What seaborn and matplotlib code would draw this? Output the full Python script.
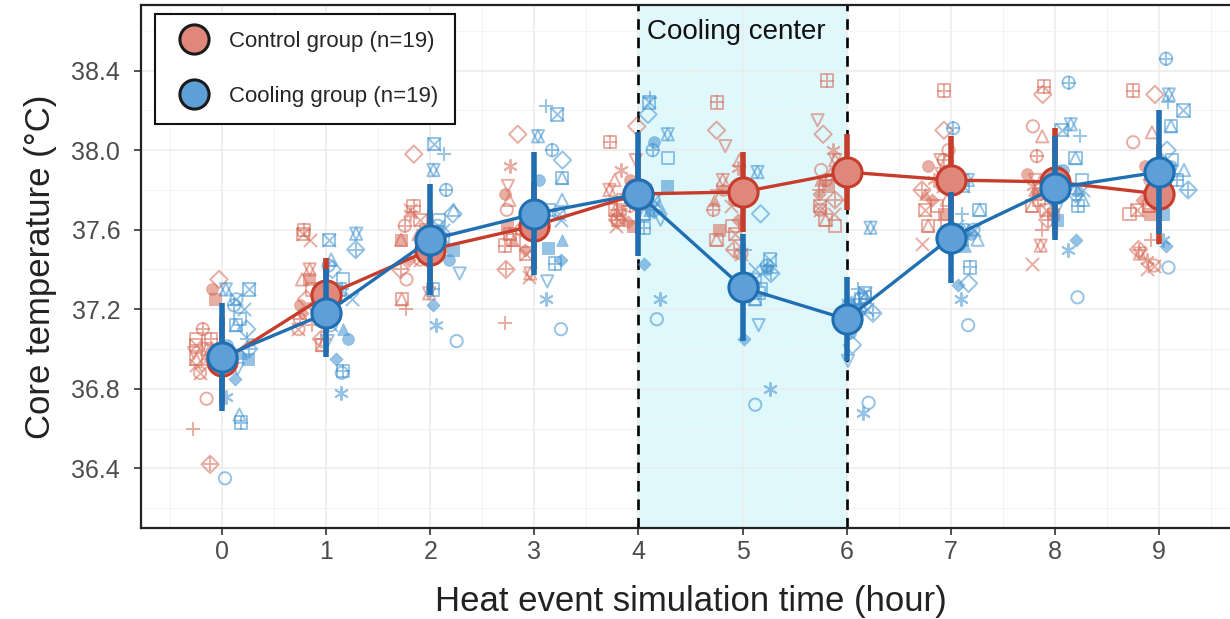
import numpy as np
import pandas as pd
import matplotlib
matplotlib.use("Agg")
import matplotlib.pyplot as plt
import seaborn as sns
from matplotlib.lines import Line2D

# Core temperature during a simulated heat event, control vs cooling group

hours = list(range(10))
groups = ["Control group (n=19)", "Cooling group (n=19)"]

# group mean and sd per hour
control_mean = [36.94, 37.27, 37.50, 37.62, 37.78, 37.79, 37.89, 37.85, 37.84, 37.78]
control_sd = [0.22, 0.19, 0.20, 0.22, 0.20, 0.20, 0.19, 0.22, 0.27, 0.25]
cooling_mean = [36.96, 37.18, 37.55, 37.68, 37.78, 37.31, 37.15, 37.56, 37.81, 37.89]
cooling_sd = [0.27, 0.22, 0.28, 0.31, 0.31, 0.27, 0.21, 0.23, 0.26, 0.31]

# individual subjects, one list per hour (subjects in shape order 0..18)
control_temps = [
    [37.05, 36.75, 36.95, 36.60, 36.92, 37.35, 36.98, 37.02, 36.90, 36.42, 37.10, 37.00, 37.05, 36.88, 36.95, 37.25, 37.30, 36.98, 37.00],
    [37.30, 37.20, 37.35, 37.12, 37.55, 37.25, 37.20, 37.58, 37.28, 37.05, 37.15, 37.40, 37.60, 37.10, 37.02, 37.35, 37.22, 37.30, 37.18],
    [37.60, 37.35, 37.55, 37.20, 37.70, 37.98, 37.50, 37.65, 37.68, 37.40, 37.62, 37.28, 37.72, 37.45, 37.25, 37.55, 37.50, 37.58, 37.45],
    [37.55, 37.70, 37.75, 37.13, 37.36, 38.08, 37.82, 37.48, 37.92, 37.40, 37.60, 37.38, 37.52, 37.65, 37.58, 37.62, 37.78, 37.55, 37.50],
    [37.75, 37.82, 37.85, 37.70, 37.62, 38.12, 37.95, 37.65, 37.90, 37.65, 37.72, 37.80, 38.04, 37.68, 37.70, 37.62, 37.85, 37.78, 37.64],
    [37.62, 37.75, 37.95, 37.80, 37.72, 38.10, 38.02, 37.58, 37.91, 37.50, 37.70, 37.85, 38.24, 37.48, 37.55, 37.60, 37.80, 37.75, 37.65],
    [37.62, 37.90, 37.88, 37.80, 37.68, 38.08, 38.15, 37.72, 38.00, 37.75, 37.85, 37.95, 38.35, 37.70, 37.65, 37.82, 37.90, 37.85, 37.78],
    [37.72, 38.00, 37.75, 37.65, 37.53, 38.10, 37.95, 37.70, 37.85, 37.80, 37.95, 37.88, 38.30, 37.82, 37.62, 37.68, 37.92, 37.78, 37.75],
    [37.75, 38.12, 38.07, 37.60, 37.43, 38.28, 37.85, 37.70, 37.82, 37.65, 37.97, 37.52, 38.32, 37.78, 37.72, 37.68, 37.88, 37.80, 37.78],
    [37.68, 38.04, 38.09, 37.55, 37.40, 38.28, 37.85, 37.70, 37.45, 37.50, 37.85, 37.48, 38.30, 37.42, 37.72, 37.68, 37.92, 37.80, 37.75],
]
cooling_temps = [
    [37.15, 36.35, 36.67, 37.05, 37.20, 37.10, 36.90, 37.30, 36.76, 37.00, 37.22, 37.30, 36.63, 37.25, 37.12, 36.95, 37.02, 36.98, 36.85],
    [37.35, 36.88, 37.45, 37.30, 37.25, 37.40, 37.04, 37.55, 36.78, 37.50, 37.42, 37.58, 36.89, 37.12, 37.30, 37.20, 37.05, 37.10, 36.95],
    [37.65, 37.04, 37.70, 37.98, 37.60, 37.68, 37.38, 38.03, 37.12, 37.58, 37.80, 37.90, 37.30, 37.62, 37.55, 37.50, 37.45, 37.55, 37.22],
    [37.70, 37.10, 37.75, 38.22, 37.65, 37.95, 37.34, 38.18, 37.25, 37.60, 38.00, 38.07, 37.43, 37.68, 37.86, 37.51, 37.85, 37.55, 37.45],
    [37.96, 37.15, 37.72, 38.26, 37.80, 38.18, 37.65, 38.24, 37.25, 37.70, 38.00, 38.08, 37.61, 37.75, 37.68, 37.82, 38.04, 37.70, 37.43],
    [37.30, 36.72, 37.35, 37.50, 37.40, 37.68, 37.12, 37.45, 36.80, 37.38, 37.42, 37.89, 37.28, 37.35, 37.25, 37.33, 37.40, 37.30, 37.05],
    [37.25, 36.73, 37.22, 37.30, 37.20, 37.02, 36.94, 37.28, 36.68, 37.18, 37.25, 37.61, 37.15, 37.22, 37.26, 37.20, 37.08, 37.24, 37.18],
    [37.60, 37.12, 37.55, 37.68, 37.62, 37.33, 37.50, 37.82, 37.25, 37.58, 38.11, 37.85, 37.41, 37.60, 37.70, 37.55, 37.58, 37.52, 37.32],
    [37.85, 37.26, 37.75, 38.07, 37.80, 37.88, 37.70, 38.10, 37.50, 37.78, 38.34, 38.13, 37.72, 37.82, 37.96, 37.65, 37.90, 37.80, 37.55],
    [37.95, 37.41, 37.90, 38.24, 37.85, 38.00, 37.75, 38.20, 37.55, 37.80, 38.46, 38.28, 37.85, 37.90, 38.12, 37.68, 37.92, 37.95, 37.52],
]

# ggplot-like point shapes 0..18 built from matplotlib markers (marker, kind)
ASTER = (6, 2, 0)
subject_shapes = [
    [("s", "open")], [("o", "open")], [("^", "open")], [("+", "line")],
    [("x", "line")], [("D", "open")], [("v", "open")],
    [("s", "open"), ("x", "line")], [(ASTER, "line")],
    [("D", "open"), ("+", "line")], [("o", "open"), ("+", "line")],
    [("^", "open"), ("v", "open")], [("s", "open"), ("+", "line")],
    [("o", "open"), ("x", "line")], [("s", "open"), ("^", "open")],
    [("s", "fill")], [("o", "fill")], [("^", "fill")], [("D", "small")],
]

point_cols = {"Control group (n=19)": "#d66a58", "Cooling group (n=19)": "#4193d0"}
line_cols = {"Control group (n=19)": "#c63d2c", "Cooling group (n=19)": "#1f6fb2"}
fill_cols = {"Control group (n=19)": "#df877a", "Cooling group (n=19)": "#5d9fd6"}
dodge = {"Control group (n=19)": -0.15, "Cooling group (n=19)": 0.15}

# long table
rng = np.random.default_rng(11)
rows = []
for grp, temps in zip(groups, [control_temps, cooling_temps]):
    for h in hours:
        for subj, t in enumerate(temps[h]):
            rows.append({"group": grp, "hour": h, "subject": subj, "temp": t,
                         "xpos": h + dodge[grp] + rng.uniform(-0.14, 0.14)})
df = pd.DataFrame(rows)

sns.set_theme(style="white")
plt.rcParams["font.family"] = ["Liberation Sans", "DejaVu Sans"]

fig = plt.figure(figsize=(12.3, 6.19), dpi=100)
ax = fig.add_axes([141 / 1230, 91 / 619, 1099 / 1230, 523 / 619])

# cooling center window
ax.axvspan(4, 6, color="#dff8fc", zorder=0.2, lw=0)
ax.axvline(4, color="black", ls=(0, (4, 3)), lw=1.9, zorder=1.5)
ax.axvline(6, color="black", ls=(0, (4, 3)), lw=1.9, zorder=1.5)
ax.text(4.08, 38.595, "Cooling center", fontsize=20, color="#111111",
        ha="left", va="center", zorder=7)

# individual points
for grp in groups:
    col = point_cols[grp]
    for subj, layers in enumerate(subject_shapes):
        sub = df[(df.group == grp) & (df.subject == subj)]
        for m, kind in layers:
            if kind == "open":
                sns.scatterplot(data=sub, x="xpos", y="temp", marker=m, s=78,
                                color=col, facecolors="none", edgecolor=col,
                                linewidth=1.4, alpha=0.55, ax=ax, zorder=2, legend=False)
            elif kind == "line":
                sns.scatterplot(data=sub, x="xpos", y="temp", marker=m, s=90,
                                color=col, linewidth=1.4, alpha=0.55, ax=ax,
                                zorder=2, legend=False)
            else:
                sns.scatterplot(data=sub, x="xpos", y="temp", marker=m,
                                s=45 if kind == "small" else 72, color=col,
                                edgecolor=col, linewidth=0.5, alpha=0.55, ax=ax,
                                zorder=2, legend=False)

# means with sd bars
z = 3
for grp, mean, sd in zip(groups, [control_mean, cooling_mean], [control_sd, cooling_sd]):
    ax.errorbar(hours, mean, yerr=sd, fmt="none", ecolor=line_cols[grp],
                elinewidth=4, capsize=0, zorder=z)
    sns.lineplot(x=hours, y=mean, color=line_cols[grp], lw=2.4, marker="o",
                 markersize=21, markerfacecolor=fill_cols[grp],
                 markeredgecolor=line_cols[grp], markeredgewidth=2.2,
                 ax=ax, zorder=z + 1)
    z += 2

# axes styling
ax.set_xlim(-0.78, 9.78)
ax.set_ylim(36.10, 38.73)
ax.set_xticks(hours)
ax.set_xticklabels([str(h) for h in hours])
yt = [36.4, 36.8, 37.2, 37.6, 38.0, 38.4]
ax.set_yticks(yt)
ax.set_yticklabels([f"{v:.1f}" for v in yt])
ax.set_xticks(np.arange(-0.5, 10, 1), minor=True)
ax.set_yticks(np.arange(36.2, 38.8, 0.4), minor=True)
ax.set_axisbelow(True)
ax.grid(which="major", color="#ebebeb", lw=1.1, zorder=0.5)
ax.grid(which="minor", color="#f3f3f3", lw=0.7, zorder=0.5)
ax.tick_params(which="major", direction="out", length=5, width=1.2,
               color="#333333", labelsize=18, labelcolor="#4d4d4d",
               bottom=True, left=True)
ax.tick_params(axis="y", which="major", pad=10)
ax.tick_params(which="minor", length=0)
for sp in ax.spines.values():
    sp.set_color("#222222")
    sp.set_linewidth(1.6)
ax.set_xlabel("Heat event simulation time (hour)", fontsize=25, color="#222222", labelpad=15)
ax.set_ylabel("Core temperature (°C)", fontsize=25, color="#222222", labelpad=10)

handles = [Line2D([], [], ls="none", marker="o", markersize=21,
                  markerfacecolor=fill_cols[g], markeredgecolor="#1a1a1a",
                  markeredgewidth=2.2) for g in groups]
leg = ax.legend(handles, groups, loc="upper left", bbox_to_anchor=(0.0127, 0.983),
                borderaxespad=0, fontsize=16, frameon=True, fancybox=False,
                edgecolor="#111111", framealpha=1, handletextpad=0.6,
                labelspacing=1.55, borderpad=0.75)
leg.get_frame().set_linewidth(1.5)
leg.set_zorder(10)

fig.savefig("out.png", dpi=100)
